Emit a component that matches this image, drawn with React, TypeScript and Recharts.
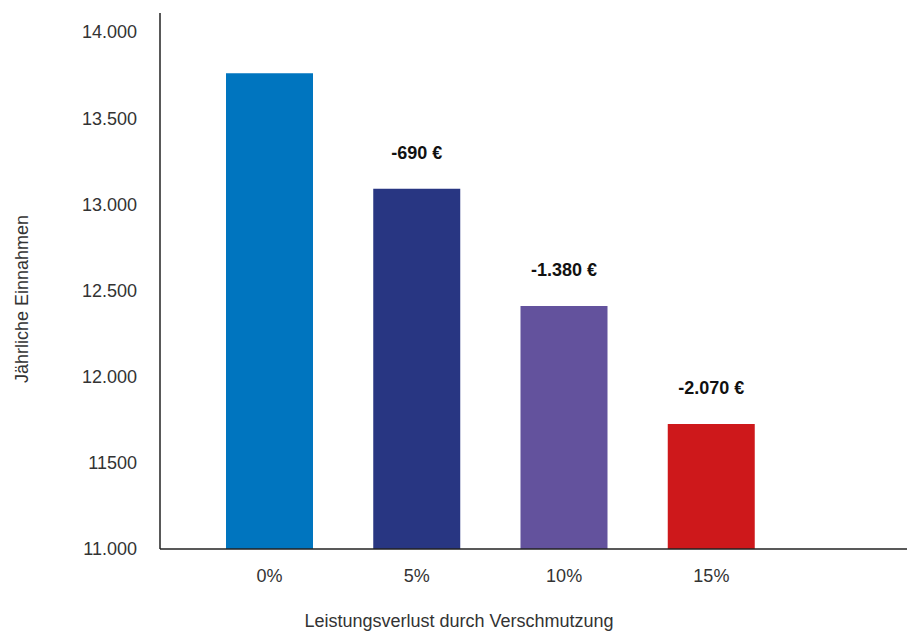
import React from 'react';
import { BarChart, Bar, XAxis, YAxis, Cell, LabelList } from 'recharts';

const categories = ['0%', '5%', '10%', '15%'];
const earnings = [13760, 13090, 12410, 11725];
const lossLabels = ['', '-690 €', '-1.380 €', '-2.070 €'];
const barColors = ['#0075bf', '#283682', '#63529d', '#ce181b'];
const yTicks = [11000, 11500, 12000, 12500, 13000, 13500, 14000];
const yTickLabels = ['11.000', '11500', '12.000', '12.500', '13.000', '13.500', '14.000'];

const FONT = '"Liberation Sans", Arial, Helvetica, sans-serif';

const data = categories.map((c, i) => ({ name: c, value: earnings[i], loss: lossLabels[i] }));

const XTitle = () => (
    <text x={459} y={627} textAnchor="middle" fontSize={18} fill="#333" fontFamily={FONT}>
        Leistungsverlust durch Verschmutzung
    </text>
);

const YTitle = () => (
    <text x={0} y={0} transform="translate(28, 299) rotate(-90)" textAnchor="middle" fontSize={18} fill="#333" fontFamily={FONT}>
        Jährliche Einnahmen
    </text>
);

const App: React.FC = () => {
    return (
        <div style={{ position: 'absolute', left: 0, top: 0, width: 907, height: 633, background: '#fff', fontFamily: FONT }}>
            <BarChart width={907} height={633} data={data} margin={{ top: 13, right: 0, left: 0, bottom: 0 }}>
                <XAxis
                    dataKey="name"
                    height={84}
                    padding={{ left: 36, right: 122 }}
                    tickLine={false}
                    tickSize={0}
                    tickMargin={20}
                    axisLine={{ stroke: '#222', strokeWidth: 1.5 }}
                    tick={{ fontSize: 18, fill: '#333', fontFamily: FONT }}
                    label={<XTitle />}
                />
                <YAxis
                    width={160}
                    domain={[11000, 14110]}
                    ticks={yTicks}
                    interval={0}
                    tickLine={false}
                    tickSize={0}
                    tickMargin={23}
                    axisLine={{ stroke: '#222', strokeWidth: 1.5 }}
                    tick={{ fontSize: 18, fill: '#333', fontFamily: FONT }}
                    tickFormatter={(v: number) => yTickLabels[yTicks.indexOf(v)] ?? String(v)}
                    label={<YTitle />}
                />
                <Bar dataKey="value" barSize={87} isAnimationActive={false}>
                    {data.map((d, i) => (
                        <Cell key={d.name} fill={barColors[i]} />
                    ))}
                    <LabelList
                        dataKey="loss"
                        position="top"
                        offset={30}
                        fill="#111"
                        fontSize={18}
                        fontWeight="bold"
                        fontFamily={FONT}
                    />
                </Bar>
            </BarChart>
        </div>
    );
};

export default App;
